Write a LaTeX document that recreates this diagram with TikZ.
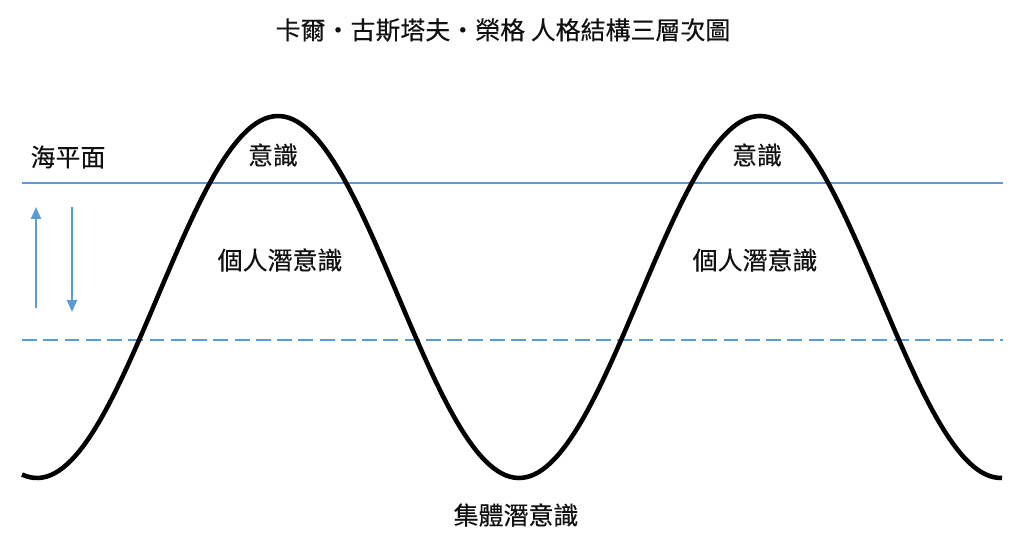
\documentclass[tikz,border=0pt]{standalone}
\usepackage{fontspec}
\setmainfont{Noto Sans CJK TC}[FakeBold=0.3]
\usepackage{xcolor}
\usetikzlibrary{arrows.meta, positioning}
\definecolor{seablue}{HTML}{5B9BD5}
\definecolor{inkdark}{HTML}{111111}
\tikzset{
  lbl/.style={font=\fontsize{14.2pt}{17pt}\selectfont, text=inkdark, inner sep=0pt},
  ttl/.style={font=\fontsize{14.2pt}{17pt}\selectfont, text=inkdark, inner sep=0pt},
  sealine/.style={draw=seablue, line width=1.3pt},
  tide/.style={-{Triangle[length=2.4mm, width=2mm]}, draw=seablue, fill=seablue, line width=1.2pt},
  wave/.style={draw=black, line width=2.6pt},
}
\begin{document}
\begin{tikzpicture}[x=0.02cm, y=-0.02cm]
  \useasboundingbox (0,0) rectangle (1024,533);
  \node[ttl] (title) at (503,30) {卡爾・古斯塔夫・榮格 人格結構三層次圖};
  % sea level and lower boundary
  \coordinate (seaL) at (22,183); \coordinate (seaR) at (1003,183);
  \coordinate (lowL) at (22,340); \coordinate (lowR) at (1003,340);
  \draw[sealine] (seaL) -- (seaR);
  \draw[sealine, line width=1.5pt, dash pattern=on 8.5pt off 3.6pt] (lowL) -- (lowR);
  \node[lbl] (sea) at (68,157) {海平面};
  % the wave
  \draw[wave] plot[domain=22:1002, samples=240] (\x, {297 + 181*cos(0.746888*(\x-37))});
  % tide arrows
  \coordinate (upA) at (36,308); \coordinate (upB) at (36,207);
  \coordinate (dnA) at (72,207); \coordinate (dnB) at (72,312);
  \draw[tide] (upA) -- (upB);
  \draw[tide] (dnA) -- (dnB);
  \foreach \i/\cx/\px in {1/273/280, 2/757/755} {
    \node[lbl] (con\i) at (\cx,155) {意識};
    \node[lbl] (per\i) at (\px,260) {個人潛意識};
  }
  \node[lbl] (coll) at (516,515) {集體潛意識};
\end{tikzpicture}
\end{document}
